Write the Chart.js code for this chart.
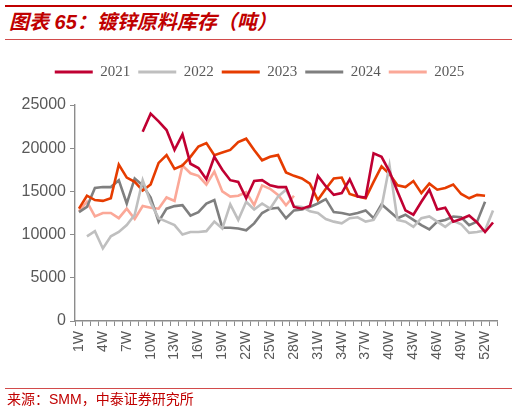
<!DOCTYPE html>
<html>
<head>
<meta charset="utf-8">
<script src="https://cdn.jsdelivr.net/npm/chart.js@4.4.1/dist/chart.umd.min.js"></script>
<style>
    body { margin: 0; background: #fff; width: 527px; height: 412px; overflow: hidden; position: relative; }
    .rule { position: absolute; left: 5px; width: 507px; }
    #topRule { top: 5px; height: 2px; background: #C00000; }
    #titleRule { top: 39px; height: 1px; background: #D24B4B; }
    #footRule { top: 388px; height: 1px; background: #D24B4B; }
    #title {
        position: absolute; left: 9px; top: 10px;
        font: italic bold 20px/24px "Liberation Sans", "Noto Sans CJK SC", sans-serif;
        color: #C00000; white-space: nowrap;
    }
    #source {
        position: absolute; left: 7px; top: 391px;
        font: 14px/16px "Liberation Sans", "Noto Sans CJK SC", sans-serif;
        color: #C00000; white-space: nowrap;
    }
    #chart { position: absolute; left: 0; top: 0; }
</style>
</head>
<body>
<div class="rule" id="topRule"></div>
<div id="title">图表 65：镀锌原料库存（吨）</div>
<div class="rule" id="titleRule"></div>
<canvas id="chart" width="527" height="412"></canvas>
<div class="rule" id="footRule"></div>
<div id="source">来源：SMM，中泰证券研究所</div>

<script>
// week categories 1W..53W (ticks shown every 3 weeks)
const weeks = [];
for (let i = 1; i <= 53; i++) weeks.push(i + "W");

const yTicks = [0, 5000, 10000, 15000, 20000, 25000];

const seriesNames = ["2021", "2022", "2023", "2024", "2025"];
const seriesColors = ["#C00032", "#BFBFBF", "#E63C00", "#7F7F7F", "#FBA898"];

const inv2021 = [null, null, null, null, null, null, null, null,
    21900, 24000, 23100, 22100, 19800, 21600, 18200, 17700, 16400, 19000,
    17500, 16300, 16100, 14200, 16200, 16300, 15700, 15500, 15500, 13200,
    13000, 13300, 16800, 15600, 14600, 14800, 16400, 14400, 14300, 19400,
    19000, 17300, 15000, 12800, 12300, 13800, 15200, 12900, 13100, 11500,
    11800, 12200, 11400, 10300, 11400];

const inv2022 = [null,
    9800, 10400, 8400, 9800, 10300, 11100, 12300, 16300, 13700, 11900,
    11500, 11100, 10000, 10300, 10300, 10400, 11500, 10700, 13500, 11700,
    13800, 12900, 13600, 13000, 14400, 15200, 13300, 13200, 12700, 12500,
    11800, 11500, 11300, 11900, 12000, 11500, 11700, 13200, 18000, 11700,
    11500, 10900, 11900, 12100, 11500, 10900, 11600, 11200, 10200, 10300,
    10500, 12800];

const inv2023 = [13000, 14500, 14000, 13900, 14200, 18100, 16600, 16100,
    15100, 15800, 18300, 19200, 17600, 18000, 19000, 20200, 20600, 19200,
    19500, 19800, 20700, 21100, 19800, 18600, 19000, 19200, 17200, 16800,
    16500, 15900, 14000, 15300, 16500, 16600, 14700, 14400, 14200, 16100,
    17900, 17000, 15700, 15500, 16200, 14800, 15900, 15200, 15400, 15800,
    14700, 14200, 14600, 14500, null];

const inv2024 = [12600, 13200, 15400, 15500, 15500, 16300, 13600, 16500,
    15700, 14300, 11500, 13000, 13300, 13400, 12200, 12600, 13600, 14000,
    10800, 10800, 10700, 10500, 11300, 12500, 13000, 13100, 11900, 12800,
    12900, 13200, 13600, 14100, 12600, 12500, 12300, 12500, 12800, 11900,
    13500, 12700, 11900, 12300, 11700, 11100, 10600, 11500, 11700, 12100,
    12000, 11100, 11500, 13800, null];

const inv2025 = [12700, 13800, 12100, 12500, 12500, 11900, 13000, 11800,
    13300, 13100, 13000, 14300, 13900, 18000, 17100, 16800, 15800, 17300,
    15000, 14400, 14500, 14900, 13400, 15700, 15300, 14600, 13400, 14500];

const allSeries = [inv2021, inv2022, inv2023, inv2024, inv2025];

// extra room between legend and plot
const legendSpacer = {
    id: "legendSpacer",
    beforeInit(chart) {
        const fit = chart.legend.fit;
        chart.legend.fit = function () {
            fit.call(this);
            this.height += 15.5;
        };
    }
};

const axisGrey = "#8C8C8C";
const labelGrey = "#595959";

new Chart(document.getElementById("chart"), {
    type: "line",
    data: {
        labels: weeks,
        datasets: allSeries.map((values, i) => ({
            label: seriesNames[i],
            data: values,
            borderColor: seriesColors[i],
            backgroundColor: seriesColors[i],
            borderWidth: 2.6,
            pointRadius: 0,
            tension: 0
        }))
    },
    options: {
        responsive: false,
        animation: false,
        layout: { padding: { left: 22, right: 30, top: 56.5, bottom: 46 } },
        plugins: {
            tooltip: { enabled: false },
            legend: {
                position: "top",
                labels: {
                    boxWidth: 38,
                    boxHeight: 3,
                    padding: 8,
                    color: labelGrey,
                    font: { family: "Liberation Serif", size: 15 },
                    generateLabels: chart =>
                        Chart.defaults.plugins.legend.labels.generateLabels(chart)
                            .map(item => ({ ...item, lineWidth: 0 }))
                }
            }
        },
        scales: {
            x: {
                offset: true,
                afterFit: scale => { scale.height = 45; },
                grid: {
                    offset: true,
                    drawOnChartArea: false,
                    tickLength: 5,
                    color: axisGrey,
                    lineWidth: 1
                },
                border: { color: axisGrey, width: 1.4 },
                ticks: {
                    autoSkip: false,
                    minRotation: 90,
                    maxRotation: 90,
                    padding: 5,
                    color: labelGrey,
                    font: { family: "Liberation Sans", size: 14 },
                    callback: (value, index) => (index % 3 === 0 ? weeks[index] : "")
                }
            },
            y: {
                min: yTicks[0],
                max: yTicks[yTicks.length - 1],
                afterFit: scale => { scale.width = 53; },
                afterBuildTicks: scale => { scale.ticks = yTicks.map(v => ({ value: v })); },
                grid: {
                    drawOnChartArea: false,
                    tickLength: 5,
                    color: axisGrey
                },
                border: { color: axisGrey, width: 1.4 },
                ticks: {
                    padding: 4,
                    color: labelGrey,
                    font: { family: "Liberation Sans", size: 16 },
                    callback: value => String(value)
                }
            }
        }
    },
    plugins: [legendSpacer]
});
</script>
</body>
</html>
